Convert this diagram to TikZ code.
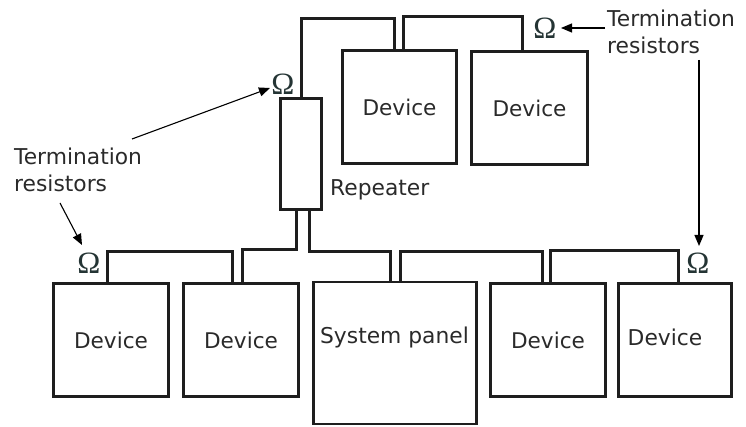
\documentclass[tikz,border=0pt]{standalone}
\usepackage{fontspec}
\setmainfont{DejaVu Sans}
\newfontfamily\omfont{Liberation Serif}
\usetikzlibrary{arrows.meta,calc}
\definecolor{linec}{HTML}{1E1E1E}
\definecolor{txt}{HTML}{2A2A2A}
\definecolor{omc}{HTML}{243434}
\begin{document}
\begin{tikzpicture}[x=1pt,y=1pt,
  box/.style={draw=linec,line width=2.8pt,inner sep=0pt,font=\fontsize{21.6}{26}\selectfont,text=txt},
  buswire/.style={draw=linec,line width=3pt,line join=miter},
  omega/.style={font=\omfont\fontsize{31}{31}\selectfont,text=omc,inner sep=0pt},
  lbl/.style={font=\fontsize{21.8}{27}\selectfont,text=txt,inner sep=0pt,align=left},
  ptr/.style={draw=black,line width=1.1pt,-{Triangle[length=11pt,width=9pt]}}]
\useasboundingbox (0,0) rectangle (746,426);

% boxes
\node[box,minimum width=114.5,minimum height=113.5] (t1) at (399.5,319) {Device};
\node[box,minimum width=116.5,minimum height=113.5] (t2) at (529.5,318) {Device};
\node[box,minimum width=41.5,minimum height=111.5] (rep) at (301,272) {};
\node[box,minimum width=115.5,minimum height=113.5] (b1) at (111,86) {Device};
\node[box,minimum width=115.5,minimum height=113.5] (b2) at (241,86) {Device};
\node[box,minimum width=163.5,minimum height=142] (panel) at (395,73) {};
\node[box,minimum width=115.5,minimum height=113.5] (b4) at (548,86) {Device};
\node[box,minimum width=113.5,minimum height=113.5] (b5) at (675,86) {};
\node[lbl] (b5t) at (665,89) {Device};
\node[lbl] (pt) at (394.5,89) {System panel};
\node[lbl,anchor=west] (rept) at (330,236) {Repeater};

% wires
\path[buswire] (rep.north) -- (rep.north |- 0,407) -| ([xshift=-5.5pt]t1.north);
\path[buswire] ([xshift=3.5pt]t1.north) -- ([xshift=3.5pt]t1.north |- 0,409) -| ([xshift=-7.5pt]t2.north);
\path[buswire] ([xshift=-5pt]rep.south) -- ([xshift=-5pt]rep.south |- 0,177) -| ([xshift=1pt]b2.north);
\path[buswire] ([xshift=8.5pt]rep.south) -- ([xshift=8.5pt]rep.south |- 0,175) -| ([xshift=-5pt]panel.north);
\path[buswire] ([xshift=-4pt]b1.north) -- ([xshift=-4pt]b1.north |- 0,175) -| ([xshift=-9pt]b2.north);
\path[buswire] ([xshift=5pt]panel.north) -- ([xshift=5pt]panel.north |- 0,175) -| ([xshift=-6pt]b4.north);
\path[buswire] ([xshift=2pt]b4.north) -- ([xshift=2pt]b4.north |- 0,176) -| ([xshift=3pt]b5.north);

% resistors
\node[omega] (omTR) at (545,398) {Ω};
\node[omega] (omR) at (283,342) {Ω};
\node[omega] (omBL) at (89,163) {Ω};
\node[omega] (omBR) at (698,163) {Ω};

% annotations
\node[lbl,anchor=west] (termTR) at (607,394.5) {Termination\\resistors};
\node[lbl,anchor=west] (termL) at (14,256) {Termination\\resistors};
\coordinate (a1s) at (605,398);
\coordinate (a1e) at (561,398);
\coordinate (a2s) at (699,366);
\coordinate (a2e) at (699,180);
\coordinate (a3s) at (132,287);
\coordinate (a3e) at (270,338);
\coordinate (a4s) at (60,223);
\coordinate (a4e) at (82,181);
\draw[ptr] (a1s) -- (a1e);
\draw[ptr] (a2s) -- (a2e);
\draw[ptr] (a3s) -- (a3e);
\draw[ptr] (a4s) -- (a4e);
\end{tikzpicture}
\end{document}
